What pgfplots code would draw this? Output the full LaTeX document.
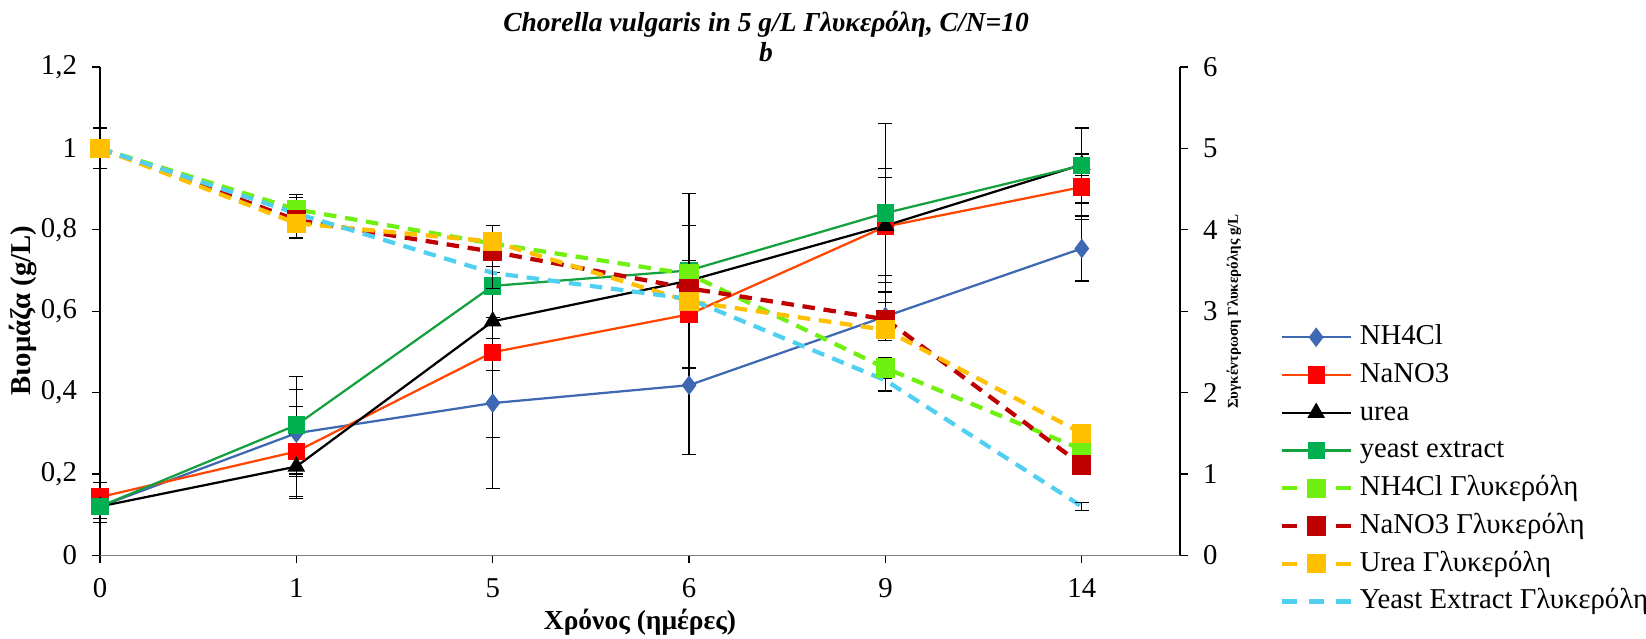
\documentclass[border=0pt]{standalone}
\usepackage{fontspec}
\setmainfont{Liberation Serif}
\usepackage{pgfplots}
\pgfplotsset{compat=1.18}

\definecolor{cnh}{RGB}{62,104,178}
\definecolor{cnano}{RGB}{255,69,0}
\definecolor{cnanom}{RGB}{255,0,0}
\definecolor{cyl}{RGB}{20,160,60}
\definecolor{cylm}{RGB}{0,176,80}
\definecolor{gnh}{RGB}{112,240,16}
\definecolor{gnano}{RGB}{192,0,0}
\definecolor{gurea}{RGB}{255,192,0}
\definecolor{gye}{RGB}{80,208,240}

\pgfplotsset{
  common/.style={
    at={(40pt,33.1pt)}, anchor=south west,
    scale only axis, width=432pt, height=195.3pt,
    xmin=0, xmax=5.5, clip=false,
    tick align=outside, major tick length=3.2pt,
    tick style={black, line width=0.5pt},
    axis line style={line width=0.6pt},
    ticklabel style={font=\fontsize{11.5}{13}\selectfont},
    /pgf/number format/use comma,
    /pgf/number format/assume math mode=true,
    error bars/error bar style={black, line width=0.5pt, solid},
    error bars/error mark=-,
    error bars/error mark options={rotate=90, black, line width=0.5pt, mark size=2.8pt, solid},
  },
  bio/.style={line width=0.9pt, solid},
  gly/.style={line width=1.7pt, dash pattern=on 5pt off 3.5pt, mark=square*, mark size=3pt,
    legend image code/.code={\draw[dash pattern=on 6pt off 4.8pt, mark repeat=2, mark phase=2]
      plot coordinates {(0pt,0pt) (13.8pt,0pt) (27.6pt,0pt)};}},
}

\begin{document}
\begin{tikzpicture}
% ---------------- biomass (left axis) ----------------
\begin{axis}[common,
  ymin=0, ymax=1.2, ytick={0,0.2,0.4,0.6,0.8,1,1.2},
  axis x line*=bottom, axis y line*=left,
  x axis line style={gray},
  xtick={0,1,2,3,4,5}, xticklabels={0,1,5,6,9,14},
  xticklabel style={yshift=-2.6pt},
  yticklabel style={xshift=-2.5pt},
]
\addplot[bio, color=cnh, mark=diamond*, mark size=3.2pt, mark options={fill=cnh, draw=cnh},
  error bars/.cd, y dir=both, y explicit] coordinates {
  (0,0.12) +- (0,0.03)
  (1,0.30) +- (0,0.107)
  (2,0.374) +- (0,0.21)
  (3,0.418) +- (0,0.17)
  (4,0.587) +- (0,0.06)
  (5,0.754) +- (0,0.08)
};
\addplot[bio, color=cnano, mark=square*, mark size=3pt, mark options={fill=cnanom, draw=cnanom},
  error bars/.cd, y dir=both, y explicit] coordinates {
  (0,0.143) +- (0,0.035)
  (1,0.255) +- (0,0.11)
  (2,0.499) +- (0,0.21)
  (3,0.592) +- (0,0.02)
  (4,0.808) +- (0,0.12)
  (5,0.905) +- (0,0.08)
};
\addplot[bio, color=black, mark=triangle*, mark size=3.2pt, mark options={fill=black},
  error bars/.cd, y dir=both, y explicit] coordinates {
  (0,0.12) +- (0,0.02)
  (1,0.218) +- (0,0.078)
  (2,0.575) +- (0,0.12)
  (3,0.675) +- (0,0.215)
  (4,0.81) +- (0,0.14)
  (5,0.96) +- (0,0.027)
};
\addplot[bio, color=cyl, mark=square*, mark size=3pt, mark options={fill=cylm, draw=cylm},
  error bars/.cd, y dir=both, y explicit] coordinates {
  (0,0.12) +- (0,0.04)
  (1,0.32) +- (0,0.12)
  (2,0.662) +- (0,0.13)
  (3,0.70) +- (0,0.11)
  (4,0.841) +- (0,0.22)
  (5,0.958) +- (0,0.092)
};
\end{axis}

% ---------------- glycerol (right axis) ----------------
\begin{axis}[common,
  ymin=0, ymax=6, ytick={0,1,2,3,4,5,6},
  axis x line=none, axis y line*=right,
  yticklabel style={xshift=2.5pt},
  legend cell align=left,
  legend image code/.code={\draw[mark repeat=2, mark phase=2]
      plot coordinates {(0pt,0pt) (13.8pt,0pt) (27.6pt,0pt)};},
  legend style={at={(1.0917,0.4757)}, anchor=north west, draw=none, fill=none,
    inner sep=0pt, row sep=4.1pt, font=\fontsize{11.5}{13}\selectfont,
    nodes={inner sep=0pt, text height=8.4pt, text depth=2.6pt},
    /tikz/every odd column/.append style={column sep=2.8pt}},
]
\addlegendimage{bio, color=cnh, mark=diamond*, mark size=3.2pt, mark options={fill=cnh, draw=cnh}}
\addlegendentry{NH4Cl}
\addlegendimage{bio, color=cnano, mark=square*, mark size=3pt, mark options={fill=cnanom, draw=cnanom}}
\addlegendentry{NaNO3}
\addlegendimage{bio, color=black, mark=triangle*, mark size=3.2pt, mark options={fill=black}}
\addlegendentry{urea}
\addlegendimage{bio, color=cyl, mark=square*, mark size=3pt, mark options={fill=cylm, draw=cylm}}
\addlegendentry{yeast extract}

\addplot[gly, color=gnh, mark options={solid, fill=gnh, draw=gnh},
  error bars/.cd, y dir=both, y explicit] coordinates {
  (0,5.0) +- (0,0.25)
  (1,4.25) +- (0,0.18)
  (2,3.83) +- (0,0.05)
  (3,3.455) +- (0,0.17)
  (4,2.30) +- (0,0.13)
  (5,1.30) +- (0,0.03)
};
\addlegendentry{NH4Cl Γλυκερόλη}
\addplot[gly, color=gnano, mark options={solid, fill=gnano, draw=gnano},
  error bars/.cd, y dir=both, y explicit] coordinates {
  (0,5.0) +- (0,0.25)
  (1,4.12) +- (0,0.1)
  (2,3.73) +- (0,0.1)
  (3,3.28) +- (0,0.05)
  (4,2.90) +- (0,0.05)
  (5,1.11) +- (0,0.03)
};
\addlegendentry{NaNO3 Γλυκερόλη}
\addplot[gly, color=gurea, mark options={solid, fill=gurea, draw=gurea},
  error bars/.cd, y dir=both, y explicit] coordinates {
  (0,5.0) +- (0,0.25)
  (1,4.08) +- (0,0.18)
  (2,3.855) +- (0,0.2)
  (3,3.12) +- (0,0.05)
  (4,2.77) +- (0,0.13)
  (5,1.50) +- (0,0.03)
};
\addlegendentry{Urea Γλυκερόλη}
\addplot[gly, color=gye, mark=none,
  legend image code/.code={\draw[dash pattern=on 6pt off 4.8pt]
      (0pt,0pt) -- (27.6pt,0pt);},
  error bars/.cd, y dir=both, y explicit] coordinates {
  (0,5.0) +- (0,0.25)
  (1,4.20) +- (0,0.2)
  (2,3.47) +- (0,0.19)
  (3,3.15) +- (0,0.05)
  (4,2.15) +- (0,0.13)
  (5,0.60) +- (0,0.05)
};
\addlegendentry{Yeast Extract Γλυκερόλη}
\end{axis}

% ---------------- titles and labels ----------------
\node[anchor=base, font=\fontsize{11}{13}\selectfont\bfseries\itshape] at (306.4pt,242.6pt)
  {Chorella vulgaris in 5 g/L Γλυκερόλη, C/N=10};
\node[anchor=base, font=\fontsize{11}{13}\selectfont\bfseries\itshape] at (306.4pt,230.5pt) {b};
\node[rotate=90, font=\fontsize{11.5}{13}\selectfont\bfseries] at (9.2pt,131pt) {Βιομάζα (g/L)};
\node[rotate=90, font=\fontsize{6}{7}\selectfont\bfseries] at (493.6pt,130.6pt) {Συγκέντρωση Γλυκερόλης g/L};
\node[anchor=base, font=\fontsize{11}{13}\selectfont\bfseries] at (256pt,3.4pt) {Χρόνος (ημέρες)};

\pgfresetboundingbox
\useasboundingbox (0pt,0pt) rectangle (658.4pt,255.2pt);
\end{tikzpicture}
\end{document}
